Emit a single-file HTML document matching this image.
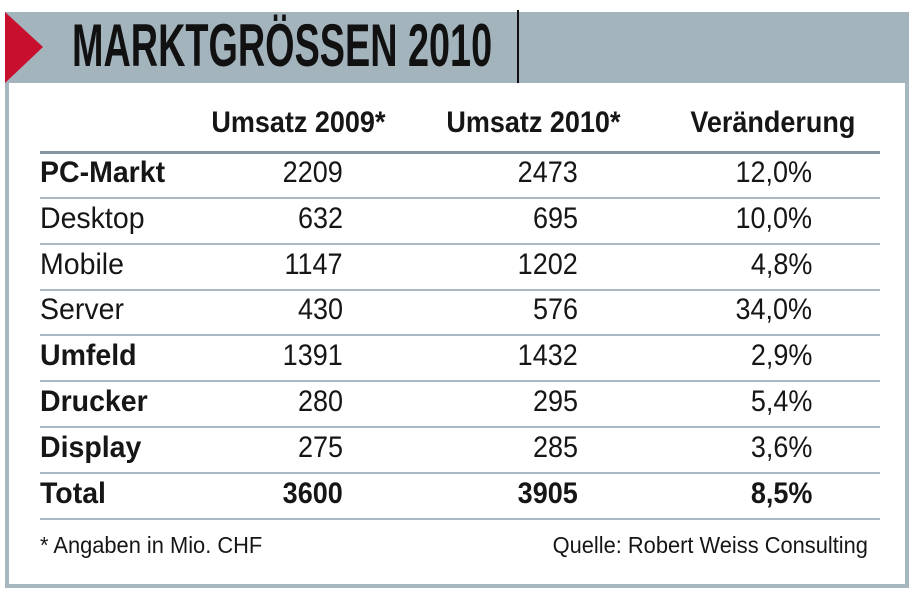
<!DOCTYPE html>
<html><head><meta charset="utf-8"><style>
body{margin:0;width:919px;height:601px;background:#fff;position:relative;overflow:hidden;font-family:"Liberation Sans",sans-serif;color:#161616}
.abs{position:absolute}
.c{position:absolute;white-space:nowrap;font-size:30px;line-height:30px}
.c span{display:inline-block}
.l span{transform:scaleX(0.95);transform-origin:left bottom}
.r{text-align:right}
.r span{transform:scaleX(0.9);transform-origin:right bottom}
.b{font-weight:bold}
.line{position:absolute;left:40px;width:840px;height:2px;background:#aab8c3}
</style></head><body>
<div class="abs" style="left:5px;top:12px;width:896px;height:572px;border:4px solid #a7b7bf;border-top:none"></div>
<div class="abs" style="left:5px;top:12px;width:904px;height:71px;background:#a3b4bd"></div>
<svg class="abs" style="left:5px;top:12px" width="40" height="71"><polygon points="0,0 38,35 0,71" fill="#c8102e"/></svg>
<div class="abs" style="left:72px;top:16px;font-size:60px;line-height:60px;font-weight:bold;white-space:nowrap;color:#111;transform:scaleX(0.63);transform-origin:left top">MARKTGRÖSSEN 2010</div>
<div class="abs" style="left:517px;top:10px;width:2px;height:73px;background:#111"></div>
<div id="t"></div>
<div class="abs" style="left:40px;top:532px;font-size:23px;white-space:nowrap;transform:scaleX(0.95);transform-origin:left top">* Angaben in Mio. CHF</div>
<div class="abs" style="right:51px;top:532px;font-size:23px;white-space:nowrap;transform:scaleX(0.95);transform-origin:right top">Quelle: Robert Weiss Consulting</div>
<script>
const headers=["Umsatz 2009*","Umsatz 2010*","Veränderung"];
const labels=["PC-Markt","Desktop","Mobile","Server","Umfeld","Drucker","Display","Total"];
const bold=[1,0,0,0,1,1,1,1];
const v2009=["2209","632","1147","430","1391","280","275","3600"];
const v2010=["2473","695","1202","576","1432","295","285","3905"];
const change=["12,0%","10,0%","4,8%","34,0%","2,9%","5,4%","3,6%","8,5%"];
const t=document.getElementById('t');
function cell(txt,cls,x,base,w,name){
  const d=document.createElement('div');
  d.className='c '+cls;
  
  
  d.style.top=(base-27)+'px';
  if(cls.indexOf('r')>=0){d.style.left=(x-w)+'px';d.style.width=w+'px';}else{d.style.left=x+'px';}
  const s=document.createElement('span');s.textContent=txt;d.appendChild(s);t.appendChild(d);
}
const hr=[385,620,855];
headers.forEach((h,i)=>cell(h,'r b',hr[i],135,240,'column-header'));
const hl=document.createElement('div');hl.className='line';hl.style.top='151px';hl.style.height='3px';hl.style.background='#8795a2';


t.appendChild(hl);
const rowH=45.8;
labels.forEach((lab,i)=>{
  const base=185+rowH*i;const b=bold[i]?' b':'';
  const vb=(i===labels.length-1)?' b':'';
  cell(lab,'l'+b,40,base,0,'row-label');
  cell(v2009[i],'r'+vb,343,base,200,'value-2009');
  cell(v2010[i],'r'+vb,578,base,200,'value-2010');
  cell(change[i],'r'+vb,812,base,200,'value-change');
  const ln=document.createElement('div');ln.className='line';
  ln.style.top=Math.round(197+rowH*i)+'px';
  
  
  t.appendChild(ln);
});
</script>
</body></html>
